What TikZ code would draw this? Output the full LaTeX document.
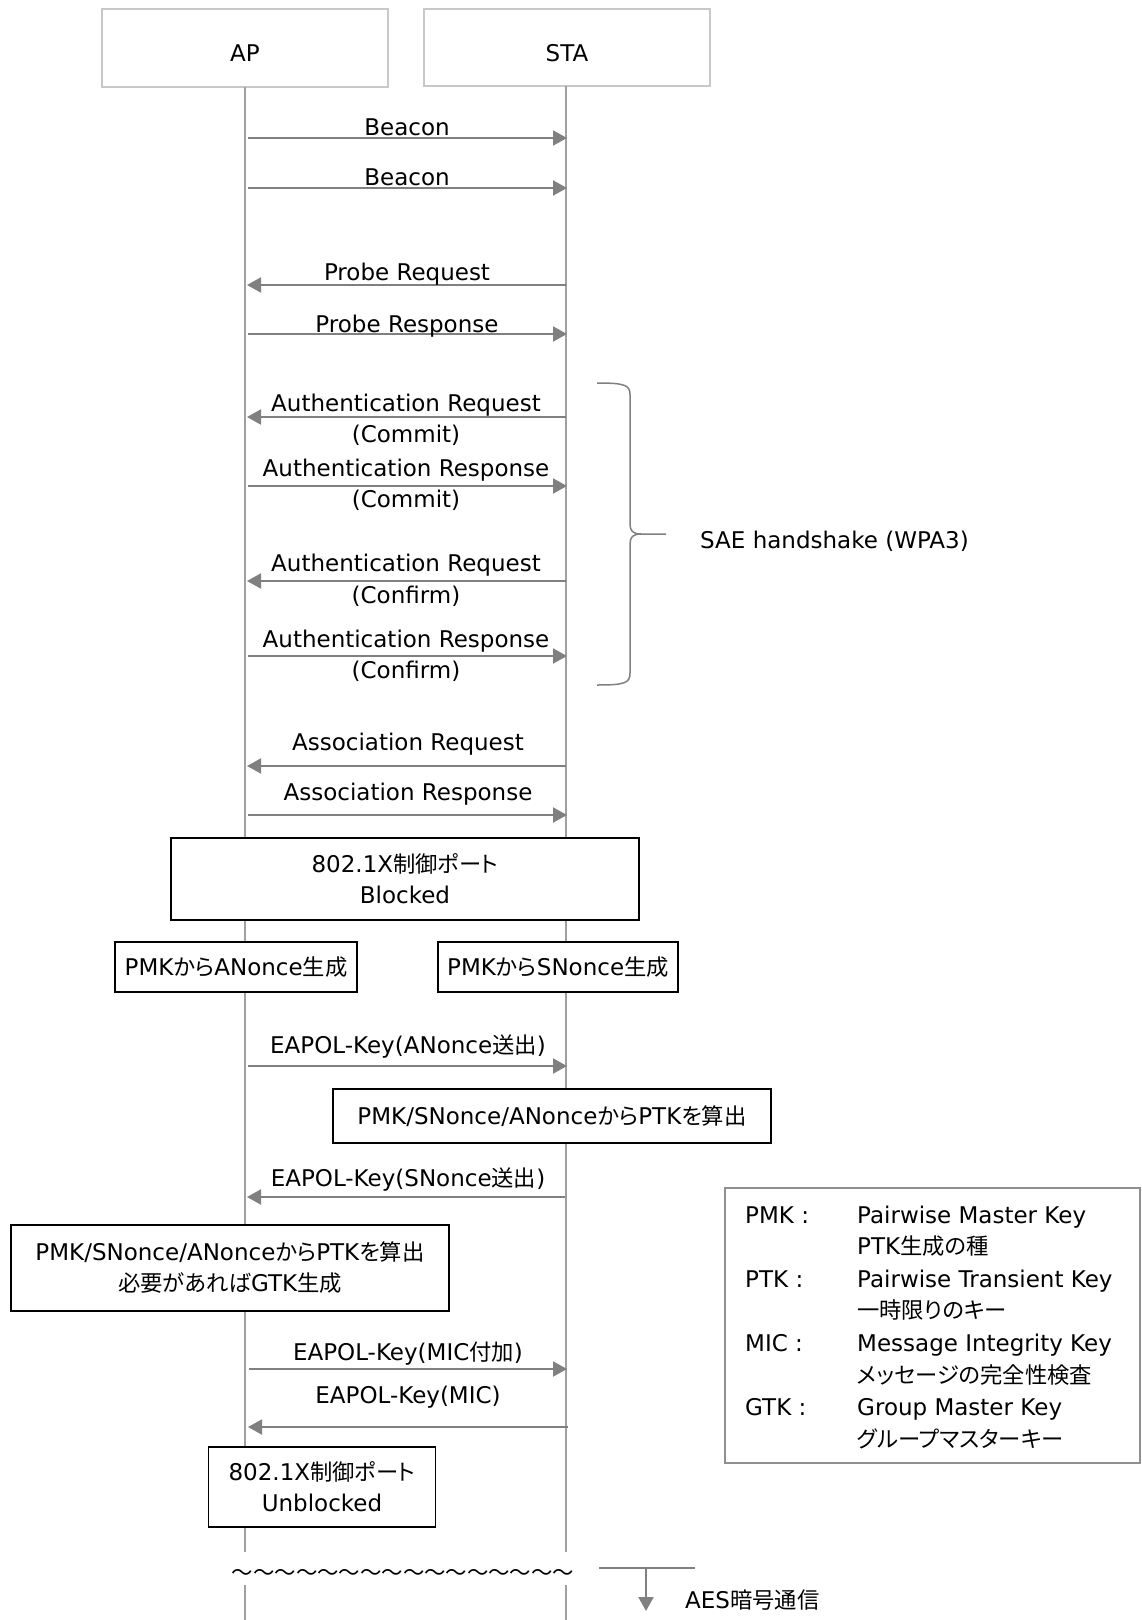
\documentclass[tikz,border=0pt]{standalone}
\usepackage{fontspec}
\setmainfont{DejaVu Sans}
\newfontfamily\jpfont{Noto Sans CJK JP}[Scale=0.97, RawFeature=+palt]
\newfontfamily\jpfixed{Noto Sans CJK JP}[Scale=0.93]
\newcommand\jtext[1]{{\jpfont #1}}
\usetikzlibrary{arrows.meta}
\definecolor{linegray}{HTML}{A0A0A0}
\definecolor{arrowgray}{HTML}{808080}
\definecolor{headgray}{HTML}{C8C8C8}
\definecolor{legendgray}{HTML}{909090}

\begin{document}
\begin{tikzpicture}[x=1pt,y=-1pt,
  every node/.style={font=\fontsize{23}{31}\selectfont, inner sep=0pt},
  lifeline/.style={draw=linegray, line width=1.5pt},
  msg/.style={draw=arrowgray, line width=2pt, -{Triangle[length=14pt,width=15pt]}},
  plainline/.style={draw=arrowgray, line width=2pt},
  lbl/.style={anchor=base},
  header/.style={draw=headgray, line width=2.5pt, fill=white},
  stepbox/.style={draw=black, line width=1.8pt, fill=white, align=center},
  legendbox/.style={draw=legendgray, line width=1.5pt, fill=white},
  bracestyle/.style={draw=arrowgray, line width=1.5pt},
]
\useasboundingbox (0,0) rectangle (1141,1620);

% participants
\node[header, minimum width=286pt, minimum height=78pt] (ap) at (245,48) {};
\node[header, minimum width=286pt, minimum height=77pt] (sta) at (567,47.5) {};
\node[lbl] (aptext) at (245,61) {AP};
\node[lbl] (statext) at (567,61) {STA};

% lifelines, broken where time is skipped
\coordinate (apTop) at (245,87);
\coordinate (apCut1) at (245,1552);
\coordinate (apCut2) at (245,1585);
\coordinate (apEnd) at (245,1620);
\coordinate (staTop) at (566,86);
\coordinate (staCut1) at (566,1552);
\coordinate (staCut2) at (566,1585);
\coordinate (staEnd) at (566,1620);
\draw[lifeline] (apTop) -- (apCut1);
\draw[lifeline] (apCut2) -- (apEnd);
\draw[lifeline] (staTop) -- (staCut1);
\draw[lifeline] (staCut2) -- (staEnd);

% discovery
\coordinate (a1) at (248,138);  \coordinate (s1) at (567,138);
\draw[msg] (a1) -- (s1);
\node[lbl] (m1) at (407,135) {Beacon};
\coordinate (a2) at (248,188);  \coordinate (s2) at (567,188);
\draw[msg] (a2) -- (s2);
\node[lbl] (m2) at (407,185) {Beacon};
\coordinate (a3) at (247,285);  \coordinate (s3) at (566,285);
\draw[msg] (s3) -- (a3);
\node[lbl] (m3) at (407,280) {Probe Request};
\coordinate (a4) at (248,334);  \coordinate (s4) at (567,334);
\draw[msg] (a4) -- (s4);
\node[lbl] (m4) at (407,332) {Probe Response};

% SAE authentication
\coordinate (a5) at (247,417);  \coordinate (s5) at (566,417);
\draw[msg] (s5) -- (a5);
\node[lbl] (m5a) at (406,411) {Authentication Request};
\node[lbl] (m5b) at (406,442) {(Commit)};
\coordinate (a6) at (248,486);  \coordinate (s6) at (567,486);
\draw[msg] (a6) -- (s6);
\node[lbl] (m6a) at (406,476) {Authentication Response};
\node[lbl] (m6b) at (406,507) {(Commit)};
\coordinate (a7) at (247,581);  \coordinate (s7) at (566,581);
\draw[msg] (s7) -- (a7);
\node[lbl] (m7a) at (406,571) {Authentication Request};
\node[lbl] (m7b) at (406,603) {(Confirm)};
\coordinate (a8) at (248,656);  \coordinate (s8) at (567,656);
\draw[msg] (a8) -- (s8);
\node[lbl] (m8a) at (406,647) {Authentication Response};
\node[lbl] (m8b) at (406,678) {(Confirm)};

% brace grouping the SAE exchange
\draw[bracestyle] (597,383) .. controls (625,383) and (630,385) .. (630,395)
  -- (630,524) .. controls (630,531) and (633,534) .. (641,534) -- (666,534);
\draw[bracestyle] (641,534) .. controls (633,534) and (630,537) .. (630,544)
  -- (630,673) .. controls (630,683) and (625,685) .. (597,685);
\node[anchor=base west] (sae) at (700,548) {SAE handshake (WPA3)};

% association
\coordinate (a9) at (247,766);  \coordinate (s9) at (566,766);
\draw[msg] (s9) -- (a9);
\node[lbl] (m9) at (408,750) {Association Request};
\coordinate (a10) at (248,815); \coordinate (s10) at (567,815);
\draw[msg] (a10) -- (s10);
\node[lbl] (m10) at (408,800) {Association Response};

% 4-way handshake
\node[stepbox, minimum width=468pt, minimum height=82pt] (blocked) at (405,879)
  {802.1X\jtext{制御ポート}\\Blocked};
\node[stepbox, minimum width=242pt, minimum height=50pt] (anonce) at (236,967)
  {PMK\jtext{から}ANonce\jtext{生成}};
\node[stepbox, minimum width=240pt, minimum height=50pt] (snonce) at (558,967)
  {PMK\jtext{から}SNonce\jtext{生成}};

\coordinate (a11) at (248,1066); \coordinate (s11) at (567,1066);
\draw[msg] (a11) -- (s11);
\node[lbl] (m11) at (408,1053) {EAPOL-Key(ANonce\jtext{送出})};

\node[stepbox, minimum width=438pt, minimum height=54pt] (staptk) at (552,1116)
  {PMK/SNonce/ANonce\jtext{から}PTK\jtext{を算出}};

\coordinate (a12) at (247,1197); \coordinate (s12) at (565,1197);
\draw[msg] (s12) -- (a12);
\node[lbl] (m12) at (408,1186) {EAPOL-Key(SNonce\jtext{送出})};

\node[stepbox, minimum width=438pt, minimum height=86pt] (apptk) at (230,1268)
  {PMK/SNonce/ANonce\jtext{から}PTK\jtext{を算出}\\\jtext{必要があれば}GTK\jtext{生成}};

\coordinate (a13) at (249,1369); \coordinate (s13) at (567,1369);
\draw[msg] (a13) -- (s13);
\node[lbl] (m13) at (408,1360) {EAPOL-Key(MIC\jtext{付加})};
\coordinate (a14) at (248,1427); \coordinate (s14) at (568,1427);
\draw[msg] (s14) -- (a14);
\node[lbl] (m14) at (408,1403) {EAPOL-Key(MIC)};

\node[stepbox, minimum width=227pt, minimum height=80pt] (unblocked) at (322,1487)
  {802.1X\jtext{制御ポート}\\Unblocked};

% time skip and encrypted traffic
\node[lbl] (skip) at (403,1580) {\jpfixed 〜〜〜〜〜〜〜〜〜〜〜〜〜〜〜〜};
\coordinate (aesL) at (599,1568);
\coordinate (aesR) at (695,1568);
\coordinate (aesM) at (646,1568);
\coordinate (aesTip) at (646,1611);
\draw[plainline] (aesL) -- (aesR);
\draw[msg] (aesM) -- (aesTip);
\node[anchor=base west] (aes) at (685,1608) {AES\jtext{暗号通信}};

% glossary
\node[legendbox, minimum width=415pt, minimum height=275pt] (legend) at (932.5,1325.5) {};
\node[anchor=base west] (k1) at (745,1223) {PMK :};
\node[anchor=base west] (d1a) at (857,1223) {Pairwise Master Key};
\node[anchor=base west] (d1b) at (857,1254) {PTK\jtext{生成の種}};
\node[anchor=base west] (k2) at (745,1287) {PTK :};
\node[anchor=base west] (d2a) at (857,1287) {Pairwise Transient Key};
\node[anchor=base west] (d2b) at (857,1318) {\jtext{一時限りのキー}};
\node[anchor=base west] (k3) at (745,1351) {MIC :};
\node[anchor=base west] (d3a) at (857,1351) {Message Integrity Key};
\node[anchor=base west] (d3b) at (857,1383) {\jtext{メッセージの完全性検査}};
\node[anchor=base west] (k4) at (745,1415) {GTK :};
\node[anchor=base west] (d4a) at (857,1415) {Group Master Key};
\node[anchor=base west] (d4b) at (857,1447) {\jtext{グループマスターキー}};
\end{tikzpicture}
\end{document}
